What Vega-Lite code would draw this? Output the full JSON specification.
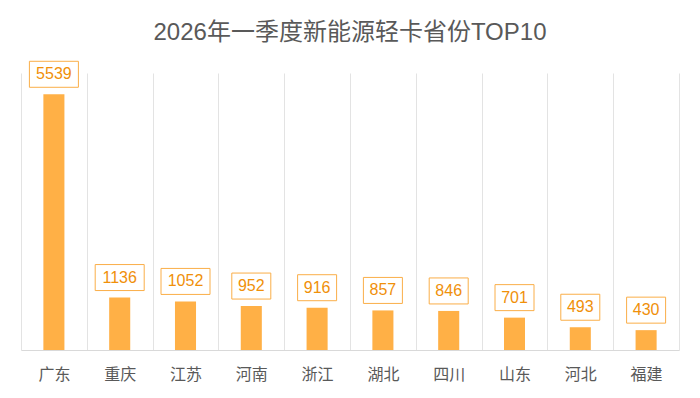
{
  "$schema": "https://vega.github.io/schema/vega-lite/v6.json",
  "autosize": "none",
  "width": 658,
  "height": 277,
  "padding": {"left": 21, "top": 73, "right": 21, "bottom": 48},
  "background": "white",
  "title": {
    "text": "2026年一季度新能源轻卡省份TOP10",
    "fontSize": 24,
    "font": "Liberation Sans, Noto Sans CJK SC",
    "fontWeight": "normal",
    "color": "#595959",
    "anchor": "middle",
    "offset": 14
  },
  "data": {
    "values": [
      {"province": "广东", "value": 5539},
      {"province": "重庆", "value": 1136},
      {"province": "江苏", "value": 1052},
      {"province": "河南", "value": 952},
      {"province": "浙江", "value": 916},
      {"province": "湖北", "value": 857},
      {"province": "四川", "value": 846},
      {"province": "山东", "value": 701},
      {"province": "河北", "value": 493},
      {"province": "福建", "value": 430}
    ]
  },
  "encoding": {
    "x": {
      "field": "province",
      "type": "nominal",
      "sort": null,
      "scale": {"paddingInner": 0, "paddingOuter": 0},
      "axis": {
        "title": null,
        "labelAngle": 0,
        "labelFontSize": 16,
        "labelFont": "Noto Sans CJK SC",
        "labelColor": "#595959",
        "labelPadding": 16,
        "ticks": false,
        "grid": true,
        "tickBand": "extent",
        "gridColor": "#E3E3E3",
        "gridWidth": 1,
        "domainColor": "#D9D9D9",
        "domainWidth": 1
      }
    },
    "y": {
      "field": "value",
      "type": "quantitative",
      "scale": {"domain": [0, 6000]},
      "axis": null
    }
  },
  "layer": [
    {
      "mark": {"type": "bar", "color": "#FFB046", "width": {"band": 0.32}}
    },
    {
      "mark": {
        "type": "point",
        "filled": true,
        "fill": "white",
        "fillOpacity": 1,
        "stroke": "#FAAE48",
        "strokeWidth": 1,
        "opacity": 1,
        "size": 2500,
        "yOffset": -20
      },
      "encoding": {
        "shape": {
          "condition": {"test": "datum.value >= 1000", "value": "M-0.98,-0.52H0.98V0.52H-0.98Z"},
          "value": "M-0.78,-0.52H0.78V0.52H-0.78Z"
        }
      }
    },
    {
      "mark": {
        "type": "text",
        "fontSize": 16,
        "font": "Liberation Sans",
        "color": "#F0900A",
        "baseline": "middle",
        "align": "center",
        "yOffset": -20
      },
      "encoding": {"text": {"field": "value", "type": "quantitative", "format": "d"}}
    }
  ],
  "config": {"view": {"stroke": null}}
}
